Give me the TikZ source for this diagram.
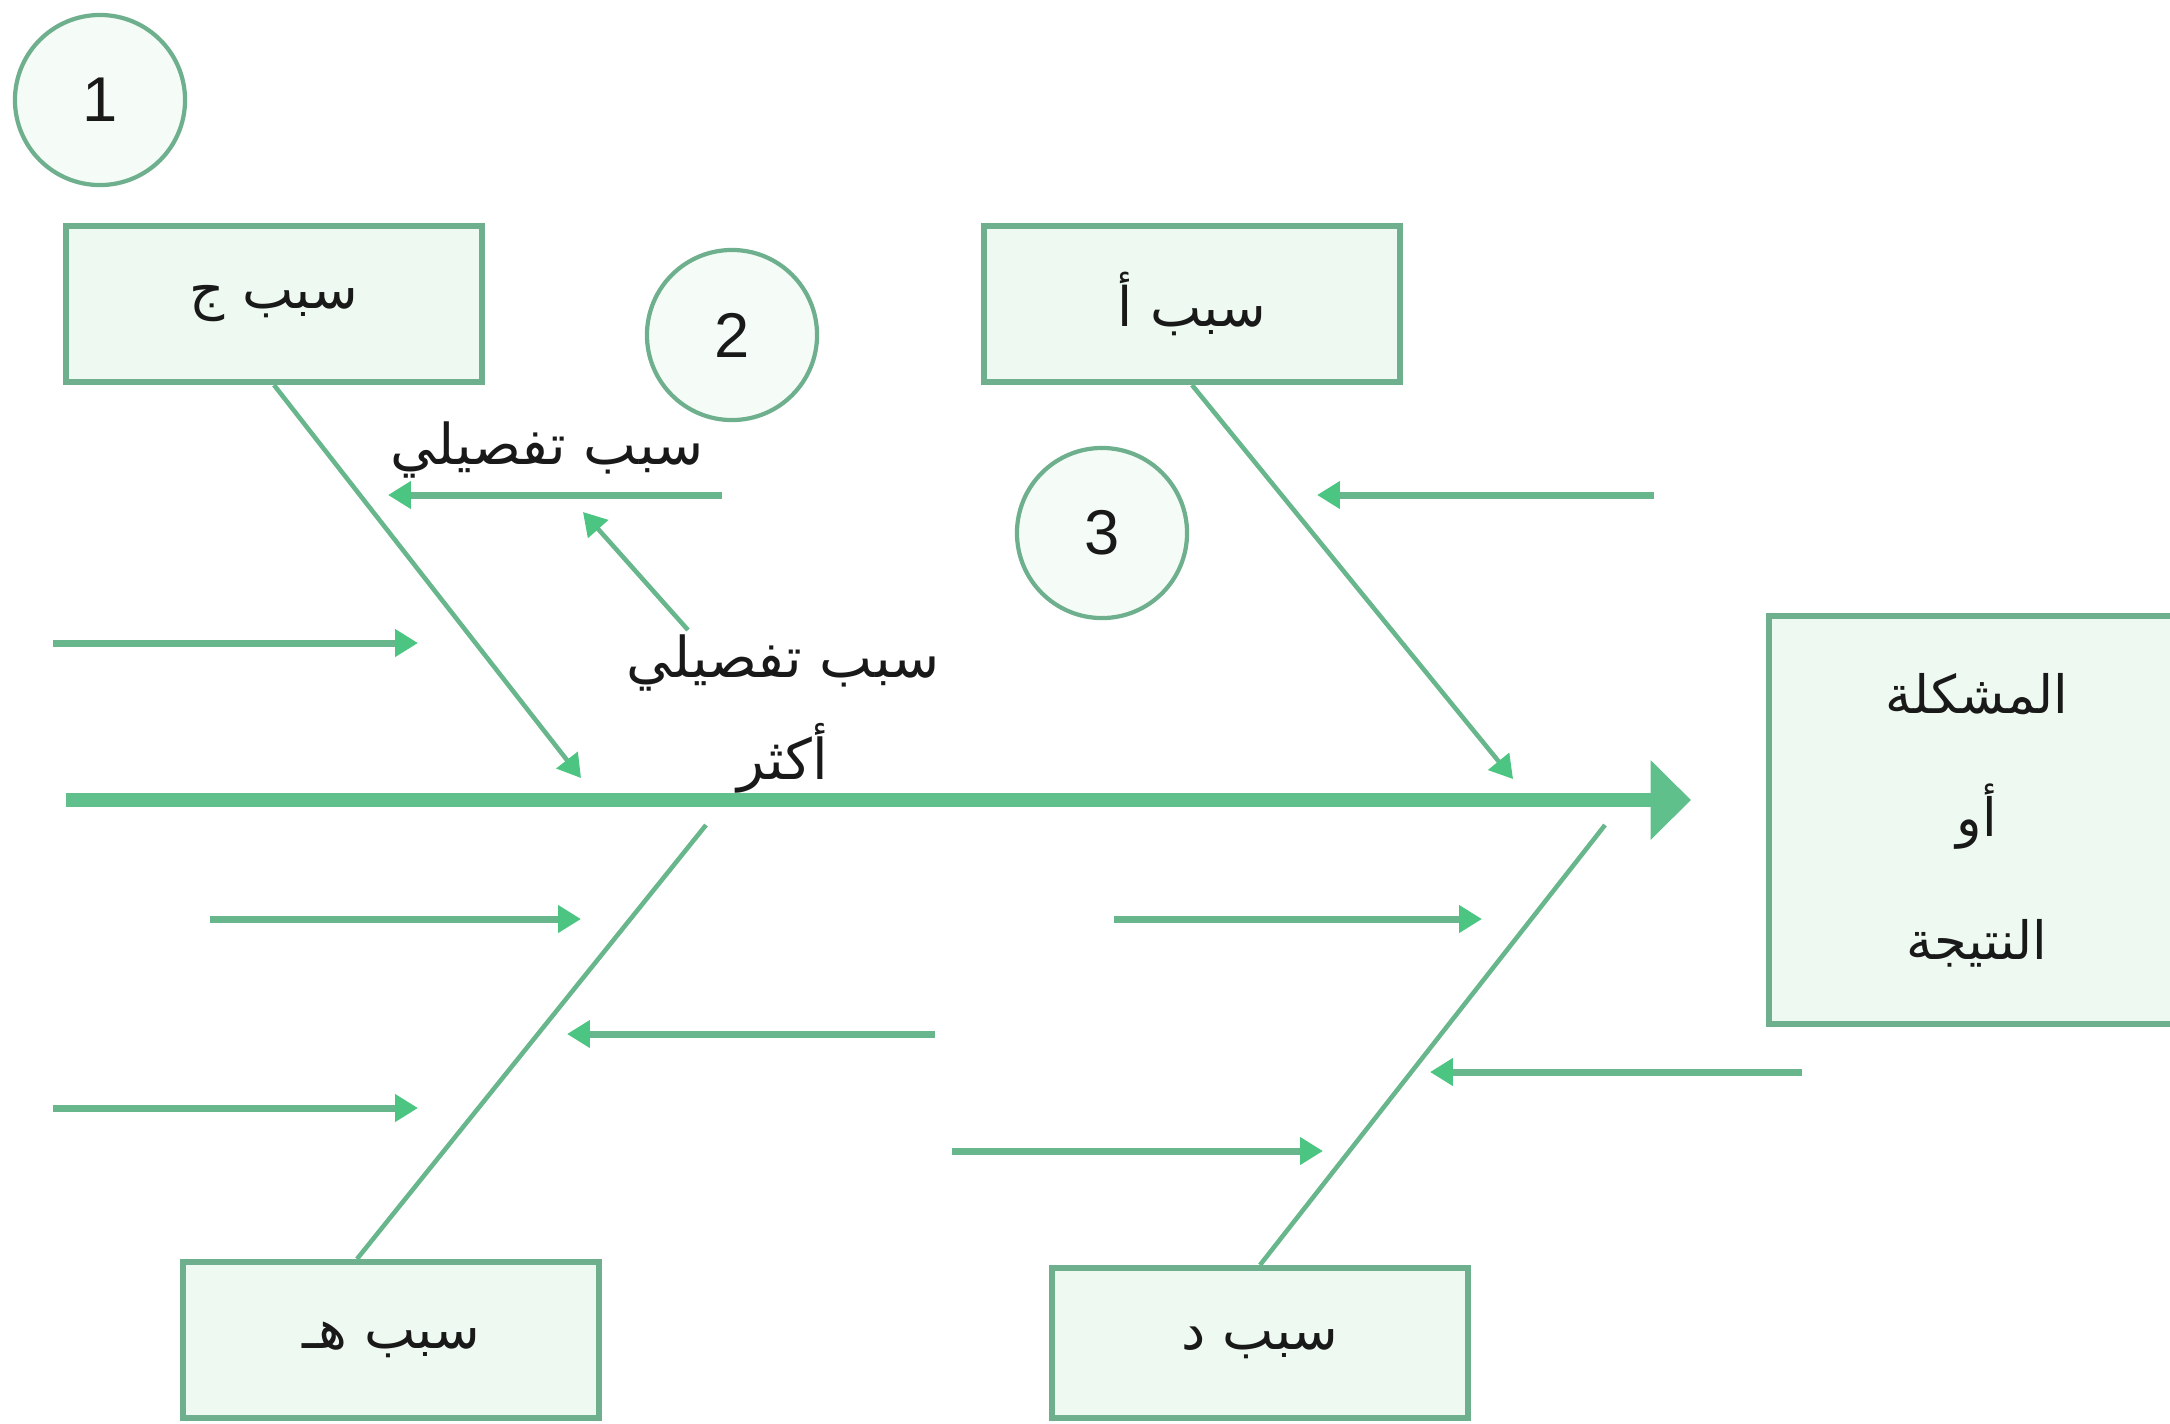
\documentclass[tikz,border=0pt]{standalone}
\usepackage{fontspec}
\usetikzlibrary{arrows.meta}
\TeXXeTstate=1
\newfontfamily\arabicfont[Script=Arabic]{DejaVu Sans}
\newfontfamily\numfont{Liberation Sans}
\definecolor{bonegreen}{RGB}{104,182,140}
\definecolor{spinegreen}{RGB}{96,192,140}
\definecolor{tipgreen}{RGB}{76,196,130}
\definecolor{boxfill}{RGB}{238,250,241}
\definecolor{boxline}{RGB}{110,176,142}
\definecolor{inktext}{RGB}{25,25,25}

\begin{document}
\begin{tikzpicture}[x=0.01cm, y=-0.01cm,
  causebox/.style={draw=boxline, line width=1.7pt, fill=boxfill, minimum width=4.15cm, minimum height=1.56cm, text=inktext, font=\arabicfont\fontsize{15.5}{20}\selectfont},
  numcircle/.style={circle, draw=boxline, line width=1.2pt, fill=boxfill!60, minimum size=1.70cm, text=inktext, font=\numfont\fontsize{18}{20}\selectfont},
  bone/.style={draw=bonegreen, line width=1.3pt},
  twig/.style={draw=bonegreen, line width=2pt, -{Triangle[length=6.5pt, width=7.5pt, color=tipgreen]}},
  subtext/.style={text=inktext, align=center, font=\arabicfont\fontsize{16}{29}\selectfont}]
  \useasboundingbox (0,0) rectangle (2170,1423);
  \clip (0,0) rectangle (2170,1423);

  % number circles
  \node[numcircle] (n1) at (100,100) {1};
  \node[numcircle] (n2) at (732,335) {2};
  \node[numcircle] (n3) at (1102,533) {3};

  % cause boxes and the result box
  \node[causebox] (cJ) at (274,304) {\beginR سبب ج\endR};
  \node[causebox] (cA) at (1192,304) {\beginR سبب أ\endR};
  \node[causebox, minimum height=4.07cm, align=center, font=\arabicfont\fontsize{15}{35}\selectfont] (res) at (1977,820) {\beginR المشكلة\endR\\ \beginR أو\endR\\ \beginR النتيجة\endR};
  \node[causebox] (cH) at (391,1340) {\beginR سبب هـ\endR};
  \node[causebox, minimum height=1.50cm] (cD) at (1260,1343) {\beginR سبب د\endR};

  % spine
  \coordinate (tail) at (66,800);
  \coordinate (head) at (1691,800);
  \draw[draw=spinegreen, line width=4pt, -{Triangle[length=11.5pt, width=22pt, color=spinegreen]}] (tail) -- (head);

  % main bones
  \coordinate (jEnd) at (581,778);
  \coordinate (aEnd) at (1513,779);
  \coordinate (hEnd) at (706,825);
  \coordinate (dEnd) at (1605,825);
  \draw[bone, -{Triangle[length=6.5pt, width=7.5pt, color=tipgreen]}] (cJ.south) -- (jEnd);
  \draw[bone, -{Triangle[length=6.5pt, width=7.5pt, color=tipgreen]}] (cA.south) -- (aEnd);
  \draw[bone] ([xshift=-0.34cm]cH.north) -- (hEnd);
  \draw[bone] (cD.north) -- (dEnd);

  % small cause arrows
  \foreach \k/\xa/\xb/\yy in {1/722/388/495, 2/53/418/643, 3/1654/1317/495,
      4/210/581/919, 5/935/567/1034, 6/53/418/1108,
      7/1114/1482/919, 8/1802/1430/1072, 9/952/1323/1151} {
    \coordinate (s\k) at (\xa,\yy);
    \coordinate (e\k) at (\xb,\yy);
    \draw[twig] (s\k) -- (e\k);
  }
  \coordinate (dFrom) at (688,630);
  \coordinate (dTo) at (583,512);
  \draw[bone, -{Triangle[length=6.5pt, width=7.5pt, color=tipgreen]}] (dFrom) -- (dTo);

  % labels
  \node[subtext] (sub1) at (547,450) {\beginR سبب تفصيلي\endR};
  \node[subtext] (sub2) at (783,714) {\beginR سبب تفصيلي\endR\\ \beginR أكثر\endR};
\end{tikzpicture}
\end{document}
